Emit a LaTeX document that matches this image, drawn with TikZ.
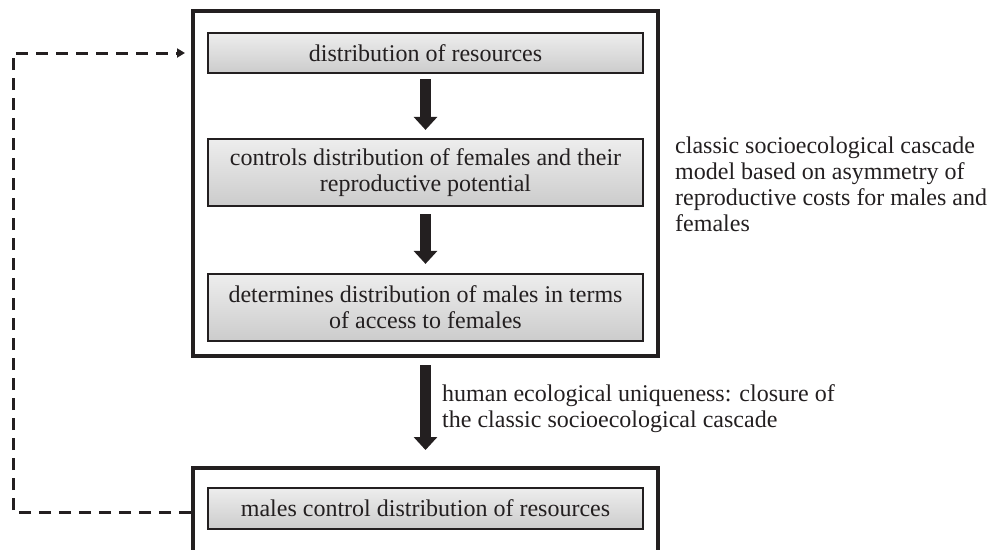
\documentclass[tikz,border=0pt]{standalone}
\usepackage{fontspec}
\setmainfont{Liberation Serif}
\usetikzlibrary{arrows.meta}
\definecolor{ink}{HTML}{231F20}
\begin{document}
\begin{tikzpicture}[x=1pt,y=-1pt,
        font=\fontsize{24}{26}\selectfont, text=ink,
        frame/.style={draw=ink, line width=4pt, inner sep=0pt},
        stage/.style={draw=ink, line width=2.2pt, top color=black!7, bottom color=black!20,
            minimum width=435pt, inner sep=0pt, align=center},
        flow/.style={ink, line width=11pt, -{Triangle[width=23pt,length=13pt]}},
        feedback/.style={ink, line width=3pt, dash pattern=on 12pt off 8pt,
            -{Triangle[width=9pt,length=8pt]}},
        note/.style={anchor=north west, inner sep=0pt, align=left}]
        \useasboundingbox (0,0) rectangle (988,549);
        % frames
        \node[frame, minimum width=465pt, minimum height=345pt] (upper) at (425.5,183.5) {};
        \node[frame, minimum width=465pt, minimum height=100pt] (lower) at (425.5,518) {};
        % cascade
        \node[stage, minimum height=40pt] (res) at (425.5,53) {distribution of resources};
        \node[stage, minimum height=67pt] (fem) at (425.5,172.5) {controls distribution of females and their\\reproductive potential};
        \node[stage, minimum height=67pt] (mal) at (425.5,307.5) {determines distribution of males in terms\\of access to females};
        \node[stage, minimum height=41pt] (ctrl) at (425.5,508.5) {males control distribution of resources};
        \draw[flow, shorten <=5pt, shorten >=8pt] (res.south) -- (fem.north);
        \draw[flow, shorten <=7pt, shorten >=9pt] (fem.south) -- (mal.north);
        \draw[flow, shorten <=7pt, shorten >=16pt] (upper.south) -- (lower.north);
        % notes
        \node[note] (model) at (675,137) {classic socioecological cascade\\model based on asymmetry of\\reproductive costs for males and\\females};
        \node[note] (closure) at (442,384) {human ecological uniqueness: closure of\\the classic socioecological cascade};
        % loop back
        \coordinate (loop) at (13,0);
        \draw[feedback, shorten >=6pt] (lower.west |- 0,512) -- (loop |- 0,512) -- (loop |- res.west) -- (upper.west |- res.west);
\end{tikzpicture}
\end{document}
